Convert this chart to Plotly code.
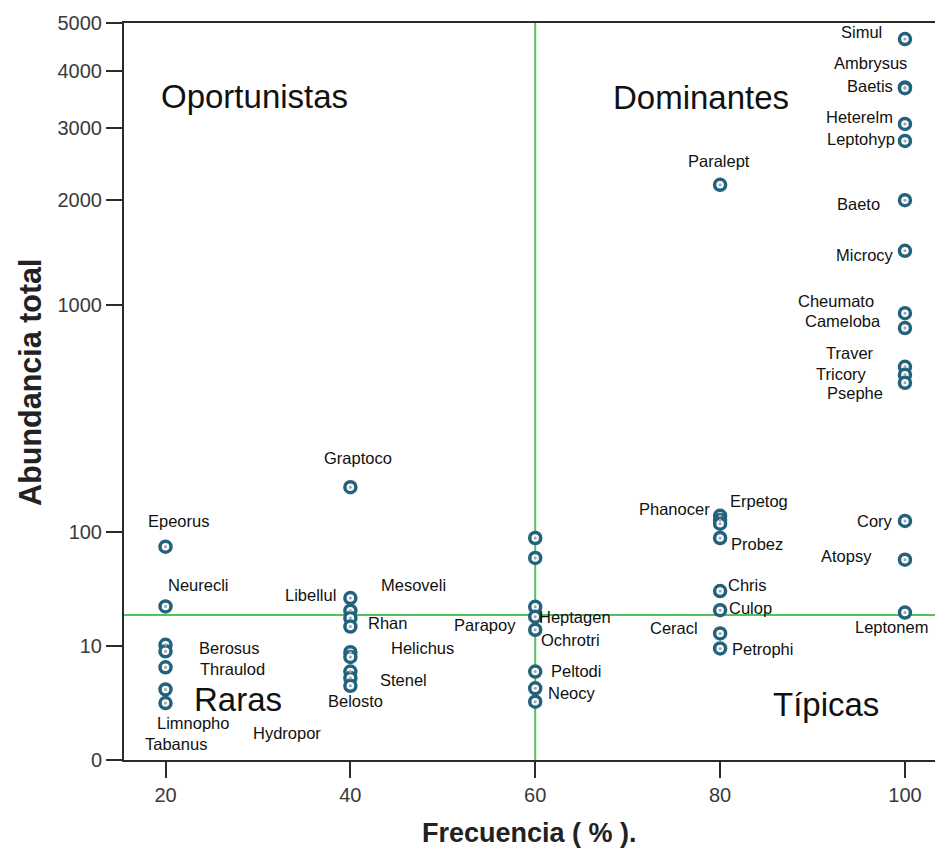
import numpy as np
import plotly.graph_objects as go

# Taxa, frequency of occurrence (%) and total abundance
TAXA_100 = ["Simul", "Ambrysus", "Baetis", "Heterelm", "Leptohyp", "Baeto", "Microcy",
            "Cheumato", "Cameloba", "Traver", "Tricory", "Psephe", "Cory", "Atopsy", "Leptonem"]
ABUND_100 = [4640, 3680, 3665, 3058, 2786, 2000, 1431, 920, 791, 535, 493, 455, 112, 58, 20]

TAXA_80 = ["Paralept", "Phanocer", "Erpetog", "", "Probez", "Chris", "Culop", "Ceracl", "Petrophi"]
ABUND_80 = [2180, 118, 113, 109, 89, 31, 21, 13, 9.4]

TAXA_60 = ["", "", "Heptagen", "Parapoy", "Ochrotri", "Peltodi", "Neocy", ""]
ABUND_60 = [89, 60, 22.5, 18.4, 14.0, 5.4, 3.5, 2.4]

TAXA_40 = ["Graptoco", "Libellul", "Mesoveli", "Rhan", "", "Helichus", "", "Stenel", "Hydropor", "Belosto"]
ABUND_40 = [158, 26.9, 20.8, 17.9, 15.0, 8.6, 7.7, 5.4, 4.6, 3.75]

TAXA_20 = ["Epeorus", "Neurecli", "Berosus", "", "Thraulod", "Limnopho", "Tabanus"]
ABUND_20 = [75, 22.7, 10.2, 8.8, 6.0, 3.4, 2.3]

FREQ_CUT = 60      # % frequency threshold
ABUND_CUT = 19     # abundance threshold

X_TICKS = [20, 40, 60, 80, 100]
Y_TICK_VALUES = [0, 10, 100, 1000, 2000, 3000, 4000, 5000]
Y_TICK_LABELS = ["0", "10", "100", "1000", "2000", "3000", "4000", "5000"]

# Custom compressed abundance scale: positions of the tick values on the axis
Y_TICK_POS = [0, 114.3, 228, 455.3, 560, 632.6, 689.3, 737.3]


def yscale(v):
    v = np.asarray(v, dtype=float)
    return np.interp(np.log10(v + 1), np.log10(np.asarray(Y_TICK_VALUES, float) + 1), Y_TICK_POS)


# Label offsets (pixels, right / down) relative to each point
OFFS_100 = [(-43, -6.7), (-34, -24), (-35, -2.6), (-45, -6.7), (-44, -1.7), (-46.5, 3.7),
            (-39.5, 4.7), (-68.5, -12.6), (-62, -6.6), (-54.5, -13.7), (-63.5, -0.7),
            (-50, 10.3), (-29.5, 0.3), (-58.5, -3.7), (-13, 14.4)]
OFFS_80 = [(-1, -24.3), (-46, -7), (39, -19.3), (0, 0), (37, 6), (27.5, -6), (30, -2.2),
           (-46, -5.6), (42, 0.2)]
OFFS_60 = [(0, 0), (0, 0), (40, 9.7), (-50.5, 8.7), (35.5, 10), (40.3, -0.7), (37, 4.4), (0, 0)]
OFFS_40 = [(8, -29), (-40, -3.3), (63, -26), (36.7, 5), (0, 0), (72.5, -4.2), (0, 0),
           (53, 8.5), (-63, 55.3), (4.7, 15.7)]
OFFS_20 = [(12.5, -26), (32.5, -21.7), (64, 3.3), (0, 0), (66.8, 2), (27.8, 34), (10.8, 40.7)]

groups = [(100, TAXA_100, ABUND_100, OFFS_100), (80, TAXA_80, ABUND_80, OFFS_80),
          (60, TAXA_60, ABUND_60, OFFS_60), (40, TAXA_40, ABUND_40, OFFS_40),
          (20, TAXA_20, ABUND_20, OFFS_20)]

xs, ys, names, offs = [], [], [], []
for f, t, a, o in groups:
    xs += [f] * len(a)
    ys += list(yscale(a))
    names += t
    offs += o

FONT = "Arial, Liberation Sans, sans-serif"
RING = "#22627c"
GREEN = "#52c25e"
AXIS = "#2b2b2b"

fig = go.Figure()

fig.add_trace(go.Scatter(
    x=xs, y=ys, mode="markers", hoverinfo="skip",
    marker=dict(symbol="circle", size=11, color="#fbfbfb", line=dict(color=RING, width=3.5)),
))
fig.add_trace(go.Scatter(
    x=xs, y=ys, mode="markers", hoverinfo="skip",
    marker=dict(symbol="circle", size=3, color="#9aa6ab", line=dict(width=0)),
))

# Threshold lines
fig.add_shape(type="line", xref="x", yref="paper", x0=FREQ_CUT, x1=FREQ_CUT, y0=0, y1=1,
              line=dict(color=GREEN, width=2), layer="below")
fig.add_shape(type="line", xref="paper", yref="y", x0=0, x1=1,
              y0=float(yscale(ABUND_CUT)), y1=float(yscale(ABUND_CUT)),
              line=dict(color=GREEN, width=2), layer="below")

annotations = []
for x, y, n, (dx, dy) in zip(xs, ys, names, offs):
    if not n:
        continue
    annotations.append(dict(x=x, y=y, xref="x", yref="y", text=n, showarrow=False,
                            xanchor="center", yanchor="middle", xshift=dx, yshift=-dy,
                            font=dict(family=FONT, size=16.5, color="#111111")))

# Quadrant names
for txt, px, py in [("Oportunistas", 0.1603, 0.8996), ("Dominantes", 0.7109, 0.8992),
                    ("Raras", 0.1400, 0.0827), ("Típicas", 0.8650, 0.0750)]:
    annotations.append(dict(x=px, y=py, xref="paper", yref="paper", text=txt, showarrow=False,
                            xanchor="center", yanchor="middle",
                            font=dict(family=FONT, size=33, color="#111111")))

# Axis titles
annotations.append(dict(x=-0.1159, y=0.5117, xref="paper", yref="paper", text="<b>Abundancia total</b>",
                        textangle=-90, showarrow=False, xanchor="center", yanchor="middle",
                        font=dict(family=FONT, size=30.5, color="#222222")))
annotations.append(dict(x=0.4994, y=-0.0986, xref="paper", yref="paper", text="<b>Frecuencia ( % ).</b>",
                        showarrow=False, xanchor="center", yanchor="middle",
                        font=dict(family=FONT, size=27, color="#222222")))

fig.update_layout(
    width=935, height=848,
    margin=dict(l=124, r=0, t=23, b=88),
    paper_bgcolor="white", plot_bgcolor="white",
    showlegend=False,
    annotations=annotations,
    xaxis=dict(range=[15.51, 103.25], tickvals=X_TICKS, ticks="outside", ticklen=16, tickwidth=2,
               tickcolor=AXIS, showline=True, linecolor=AXIS, linewidth=2, mirror=True,
               showgrid=False, zeroline=False,
               tickfont=dict(family=FONT, size=20, color="#3a3a3a")),
    yaxis=dict(range=[0, Y_TICK_POS[-1]], tickvals=Y_TICK_POS, ticktext=Y_TICK_LABELS,
               ticks="outside", ticklen=16, tickwidth=2, tickcolor=AXIS,
               showline=True, linecolor=AXIS, linewidth=2, showgrid=False, zeroline=False,
               tickfont=dict(family=FONT, size=20, color="#3a3a3a")),
)

fig.write_html("out.html")
